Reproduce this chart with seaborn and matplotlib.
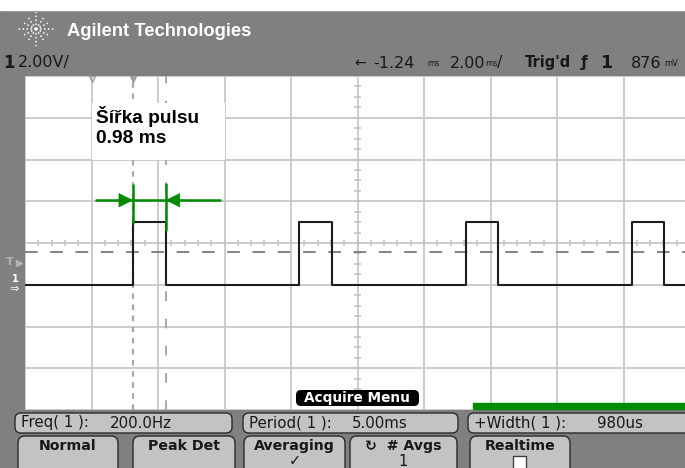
import matplotlib
matplotlib.use("Agg")
import numpy as np
import matplotlib.pyplot as plt
from matplotlib.patches import Rectangle, FancyBboxPatch
import seaborn as sns

sns.set_theme(style="white")
plt.rcParams["font.family"] = ["DejaVu Sans"]

# Scope screen: 2 ms/div horizontally, 2 V/div vertically (screen-relative time)
TIME_MS = [-10.0, -6.75, -5.77, -1.75, -0.77, 3.25, 4.23, 8.25, 9.23, 10.0]
VOLTS = [0.0, 3.0, 0.0, 3.0, 0.0, 3.0, 0.0, 3.0, 0.0, 0.0]
TRIGGER_V = 1.55
CURSOR_MS = [-6.75, -5.77]
WIDTH_LABEL = "Šířka pulsu\n0.98 ms"

HEADER_TITLE = "Agilent Technologies"
MEAS_NAMES = ["Freq( 1 ):", "Period( 1 ):", "+Width( 1 ):"]
MEAS_VALUES = ["200.0Hz", "5.00ms", "980us"]
SOFTKEYS = ["Normal", "Peak Det", "Averaging", "\u21bb  # Avgs", "Realtime"]
SOFTKEY_SUB = ["", "", "\u2713", "1", ""]

GRAY = "#808080"
KEY = "#c3c3c3"
INK = "#181818"
GREEN = "#008a00"

fig = plt.figure(figsize=(6.85, 4.68), dpi=100)
fig.patch.set_facecolor(GRAY)

# background chrome in pixel coordinates
bg = fig.add_axes([0, 0, 1, 1], zorder=0)
bg.set_xlim(0, 685)
bg.set_ylim(468, 0)
bg.axis("off")
bg.add_patch(Rectangle((0, 0), 685, 10, color="white"))

# star logo
for ang in [0, 30, 60, 90, 120, 150, 180, 210, 240, 270, 300, 330]:
    r = 20 if ang % 90 == 0 else 15
    bg.plot([36, 36 + r * np.cos(np.radians(ang))],
            [29, 29 - r * 0.85 * np.sin(np.radians(ang))],
            color="white", lw=1.1, ls=(0, (1, 1.6)))
bg.text(67, 31, HEADER_TITLE, color="white", fontsize=13.2, fontweight="bold",
        family="Liberation Sans", va="center")

# status line
ys = 63
bg.text(3, ys, "1", fontsize=12, fontweight="bold", va="center", color=INK)
bg.text(18, ys, "2.00V/", fontsize=11.5, va="center", color=INK)
bg.text(354, ys, "\u2190", fontsize=10, va="center", color=INK)
bg.text(373, ys, "-1.24", fontsize=11.5, va="center", color=INK)
bg.text(427, ys + 1, "ms", fontsize=6, va="center", color=INK)
bg.text(450, ys, "2.00", fontsize=11.5, va="center", color=INK)
bg.text(485, ys + 1, "ms", fontsize=6, va="center", color=INK)
bg.text(497, ys, "/", fontsize=11.5, va="center", color=INK)
bg.text(525, ys, "Trig'd", fontsize=10.5, fontweight="bold", va="center", color=INK)
bg.text(581, ys, "\u0192", fontsize=11, fontweight="bold", va="center", color=INK)
bg.text(600, ys, "1", fontsize=12.5, fontweight="bold", va="center", color=INK)
bg.text(631, ys, "876", fontsize=11.5, va="center", color=INK)
bg.text(664, ys + 1, "mV", fontsize=6, va="center", color=INK)

# measurement row
for (x0, w, xv), name, val in zip([(15, 217, 110), (243, 215, 352), (468, 230, 597)],
                                  MEAS_NAMES, MEAS_VALUES):
    bg.add_patch(FancyBboxPatch((x0, 413), w, 20,
                                boxstyle="round,pad=0,rounding_size=6",
                                fc=KEY, ec="#2a2a2a", lw=1))
    bg.text(x0 + 6, 423, name, fontsize=10.8, va="center", color=INK)
    bg.text(xv, 423, val, fontsize=10.8, va="center", color=INK)

# softkeys
for (x0, w), lab, sub in zip([(18, 100), (133, 102), (244, 101), (350, 107), (470, 100)],
                             SOFTKEYS, SOFTKEY_SUB):
    bg.add_patch(FancyBboxPatch((x0, 436), w, 45,
                                boxstyle="round,pad=0,rounding_size=7",
                                fc=KEY, ec="#2a2a2a", lw=1))
    bg.text(x0 + w / 2, 446, lab, fontsize=10.2, fontweight="bold", ha="center",
            va="center", color=INK)
    if sub:
        bg.text(x0 + w / 2, 461, sub, fontsize=10.5, ha="center", va="center", color=INK)
bg.add_patch(Rectangle((513, 456), 13, 14, fc="white", ec="#404040", lw=1))

# waveform display
ax = fig.add_axes([25 / 685, 58 / 468, 665 / 685, 334 / 468], zorder=1)
ax.set_facecolor("white")
ax.set_xlim(-10, 10)
ax.set_ylim(-6, 10)
ax.set_xticks(np.arange(-10, 11, 2))
ax.set_yticks(np.arange(-6, 11, 2))
ax.grid(True, color="#c8c8c8", lw=1.3)
ax.tick_params(length=0, labelbottom=False, labelleft=False)
for s in ax.spines.values():
    s.set_visible(False)

# centre-line minor ticks
ax.vlines(np.arange(-10, 10.01, 0.4), 1.84, 2.16, color="#c0c0c0", lw=1.1)
ax.hlines(np.arange(-6, 10.01, 0.5), -0.1, 0.1, color="#c0c0c0", lw=1.1)

ax.axhline(TRIGGER_V, color="#7a7a7a", lw=1.3, dashes=(7, 7), zorder=2)
ax.axvline(CURSOR_MS[0], color="#a8a8a8", lw=1.6, dashes=(2.5, 2.5), zorder=2)
ax.axvline(CURSOR_MS[1], color="#a8a8a8", lw=1.4, dashes=(5, 9), zorder=2)

sns.lineplot(x=TIME_MS, y=VOLTS, ax=ax, color="#1c1c1c", lw=1.5,
             drawstyle="steps-post", zorder=4)

# label box and width arrows
ax.add_patch(Rectangle((-8, 6), 4, 2.7, fc="white", ec="none", zorder=3))
ax.text(-7.85, 8.55, WIDTH_LABEL, fontsize=13.8, fontweight="bold", family="Liberation Sans",
        va="top", ha="left", color="black", zorder=5, linespacing=1.2)

yg = 4.05
ax.plot([-7.86, -4.14], [yg, yg], color=GREEN, lw=1.8, zorder=6)
ax.annotate("", xy=(CURSOR_MS[0], yg), xytext=(-7.3, yg),
            arrowprops=dict(arrowstyle="-|>", color=GREEN, lw=0.5,
                            mutation_scale=24, shrinkA=0, shrinkB=0), zorder=6)
ax.annotate("", xy=(CURSOR_MS[1], yg), xytext=(-5.2, yg),
            arrowprops=dict(arrowstyle="-|>", color=GREEN, lw=0.5,
                            mutation_scale=24, shrinkA=0, shrinkB=0), zorder=6)
ax.plot([CURSOR_MS[0], CURSOR_MS[0]], [2.96, 4.78], color=GREEN, lw=1.8, zorder=6)
ax.plot([CURSOR_MS[1], CURSOR_MS[1]], [2.62, 4.83], color=GREEN, lw=1.8, zorder=6)

# overlay: menu tag, green bar, markers
ov = fig.add_axes([0, 0, 1, 1], zorder=2)
ov.set_xlim(0, 685)
ov.set_ylim(468, 0)
ov.axis("off")
ov.patch.set_alpha(0)
ov.add_patch(FancyBboxPatch((296, 390), 123, 16, boxstyle="round,pad=0,rounding_size=5",
                            fc="black", ec="none"))
ov.text(357, 398, "Acquire Menu", color="white", fontsize=9.8, fontweight="bold",
        ha="center", va="center")
ov.add_patch(Rectangle((473, 403), 215, 6, color=GREEN))
ov.plot([92], [79], marker="v", ms=5, mfc="none", mec="#a0a0a0")
ov.plot([133], [79], marker="v", ms=5, color="#a0a0a0")
ov.text(6, 262, "T", color="#b4b4b4", fontsize=8, fontweight="bold", va="center")
ov.plot([19], [263], marker=">", ms=4, color="#b4b4b4")
ov.text(12, 279, "1", color="white", fontsize=7, fontweight="bold", va="center")
ov.text(9, 289, "\u21d2", color="white", fontsize=8, va="center")

fig.savefig("out.png", dpi=100, facecolor=fig.get_facecolor())
